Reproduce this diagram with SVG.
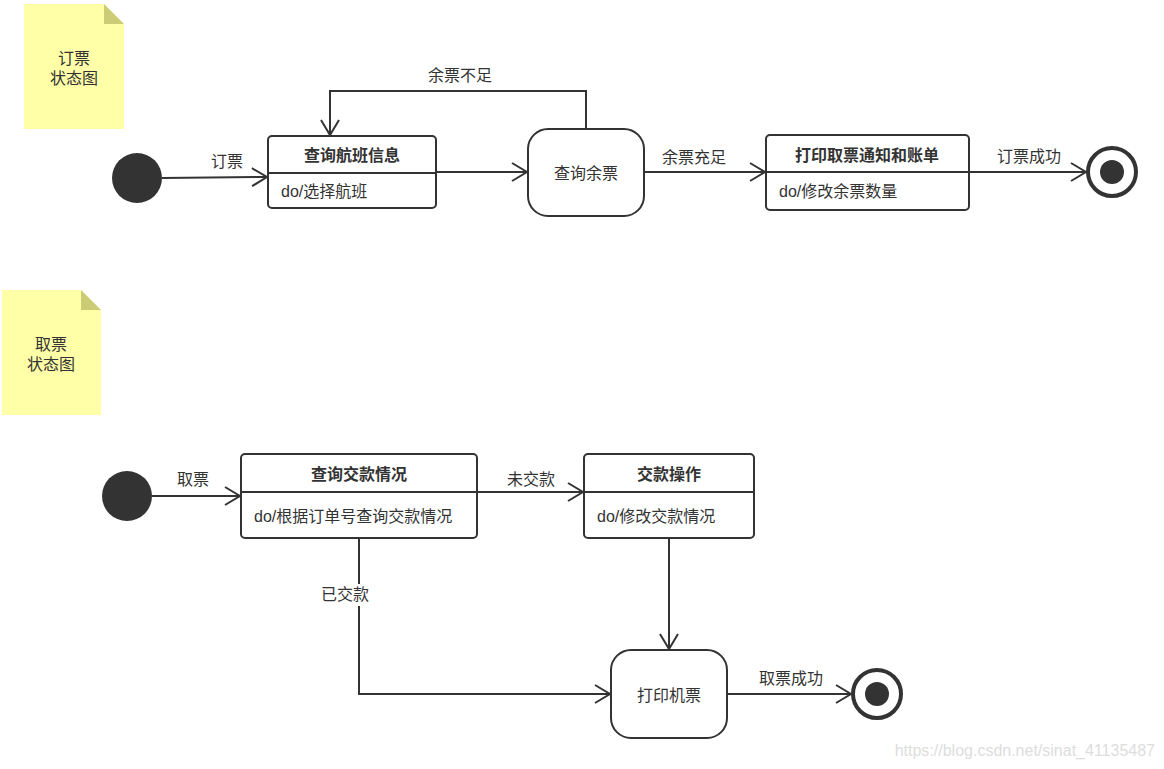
<svg xmlns="http://www.w3.org/2000/svg" width="1164" height="769" viewBox="0 0 1164 769">
<style>
text{font-family:"Liberation Sans","Noto Sans CJK SC",sans-serif;fill:#333;font-size:16px}
.t{font-weight:bold;font-size:16px;text-anchor:middle}
.c{text-anchor:middle}
.s{fill:#fff;stroke:#333;stroke-width:2}
.e{fill:none;stroke:#333;stroke-width:2}
.note{fill:#ffffa8}
.fold{fill:#cccc77}
.dot{fill:#333}
</style>
<defs>
<marker id="a" markerUnits="userSpaceOnUse" markerWidth="20" markerHeight="24" refX="16" refY="10" orient="auto">
<path d="M1,1 L16,10 L1,19" fill="none" stroke="#333" stroke-width="2"/>
</marker>
</defs>
<g id="note1">
<path class="note" d="M24,4 H104 L124,24 V129 H24 Z"/>
<path class="fold" d="M104,4 L124,24 H104 Z"/>
<text class="c" x="74" y="64">订票</text>
<text class="c" x="74" y="84">状态图</text>
</g>
<g id="note2">
<path class="note" d="M2,290 H81 L101,310 V415 H2 Z"/>
<path class="fold" d="M81,290 L101,310 H81 Z"/>
<text class="c" x="51" y="350">取票</text>
<text class="c" x="51" y="370">状态图</text>
</g>
<g id="start1"><circle class="dot" cx="137" cy="178" r="25"/></g>
<g id="s1">
<rect class="s" x="268" y="136" width="168" height="72" rx="4"/>
<line class="e" x1="268" y1="173" x2="436" y2="173"/>
<text class="t" x="352" y="161">查询航班信息</text>
<text x="281" y="197">do/选择航班</text>
</g>
<g id="s2">
<rect class="s" x="528" y="129" width="116" height="87" rx="20"/>
<text class="c" x="586" y="179">查询余票</text>
</g>
<g id="s3">
<rect class="s" x="766" y="135" width="203" height="75" rx="4"/>
<line class="e" x1="766" y1="172" x2="969" y2="172"/>
<text class="t" x="867" y="161">打印取票通知和账单</text>
<text x="779" y="197">do/修改余票数量</text>
</g>
<g id="end1">
<circle cx="1112" cy="172" r="24" fill="#fff" stroke="#333" stroke-width="4"/>
<circle class="dot" cx="1112" cy="172" r="12"/>
</g>
<g id="start2"><circle class="dot" cx="127" cy="496" r="25"/></g>
<g id="s4">
<rect class="s" x="241" y="454" width="236" height="84" rx="4"/>
<line class="e" x1="241" y1="492" x2="477" y2="492"/>
<text class="t" x="359" y="480">查询交款情况</text>
<text x="254" y="522">do/根据订单号查询交款情况</text>
</g>
<g id="s5">
<rect class="s" x="584" y="454" width="170" height="84" rx="4"/>
<line class="e" x1="584" y1="492" x2="754" y2="492"/>
<text class="t" x="669" y="480">交款操作</text>
<text x="597" y="522">do/修改交款情况</text>
</g>
<g id="s6">
<rect class="s" x="611" y="650" width="116" height="88" rx="20"/>
<text class="c" x="669" y="701">打印机票</text>
</g>
<g id="end2">
<circle cx="877" cy="694" r="24" fill="#fff" stroke="#333" stroke-width="4"/>
<circle class="dot" cx="877" cy="694" r="12"/>
</g>
<g id="connectors">
<path class="e" d="M162,178 L267,177" marker-end="url(#a)"/>
<text class="c" x="227" y="167">订票</text>
<path class="e" d="M436,172 H527" marker-end="url(#a)"/>
<path class="e" d="M586,129 V91 H330 V135" marker-end="url(#a)"/>
<text class="c" x="460" y="81">余票不足</text>
<path class="e" d="M644,172 H765" marker-end="url(#a)"/>
<text class="c" x="694" y="163">余票充足</text>
<path class="e" d="M969,172 H1086" marker-end="url(#a)"/>
<text class="c" x="1029" y="162">订票成功</text>
<path class="e" d="M152,496 H240" marker-end="url(#a)"/>
<text class="c" x="193" y="485">取票</text>
<path class="e" d="M477,492 H583" marker-end="url(#a)"/>
<text class="c" x="531" y="485">未交款</text>
<path class="e" d="M669,538 V649" marker-end="url(#a)"/>
<path class="e" d="M359,538 V694 H610" marker-end="url(#a)"/>
<rect x="318" y="584" width="54" height="22" fill="#fff"/>
<text class="c" x="345" y="600">已交款</text>
<path class="e" d="M727,694 H851" marker-end="url(#a)"/>
<text class="c" x="791" y="684">取票成功</text>
</g>
<text x="1155" y="756" style="font-size:16px;fill:#dddddd;text-anchor:end">https://blog.csdn.net/sinat_41135487</text>
</svg>
